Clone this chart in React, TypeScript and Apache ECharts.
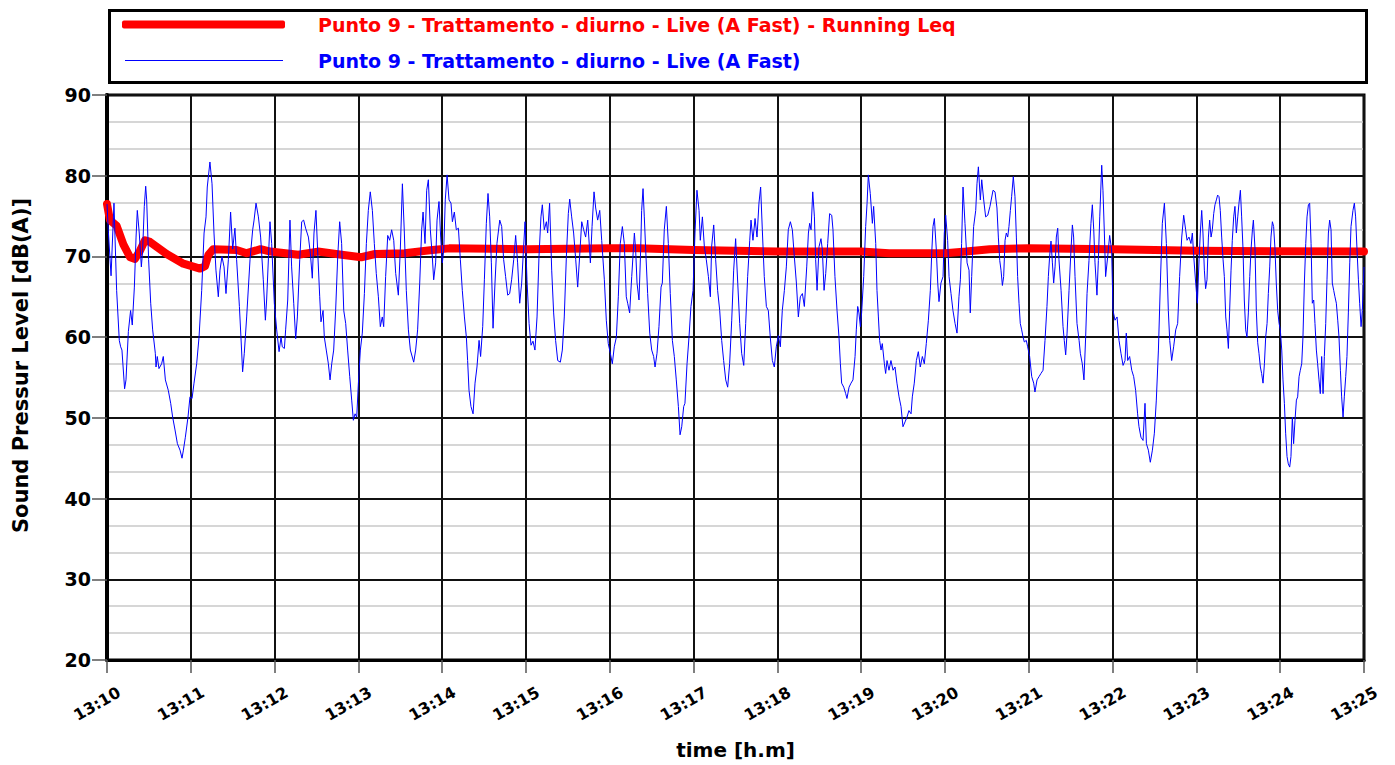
import React, { useEffect, useRef } from "react";
import * as echarts from "echarts";

const FONT = '"Comic Sans MS", "DejaVu Sans", sans-serif';
const RED_NAME = "Punto 9 - Trattamento - diurno - Live (A Fast) - Running Leq";
const BLUE_NAME = "Punto 9 - Trattamento - diurno - Live (A Fast)";

// time axis: seconds after 13:10
const timeTicks = [0, 60, 120, 180, 240, 300, 360, 420, 480, 540, 600, 660, 720, 780, 840, 900];
const startMinute = 10;
const startHour = 13;

// Running Leq [seconds, dB(A)]
const runningLeq: [number, number][] = [
  [0, 76.5], [2.1, 74.5], [6.9, 73.8], [11.7, 71.5], [16.5, 69.9], [20, 69.7], [23.6, 70.7], [27.2, 72.0],
  [30.8, 71.8], [42.7, 70.3], [54.7, 69.1], [66.6, 68.5], [70.2, 68.8], [72.6, 70.2], [76.1, 70.9],
  [92.8, 70.8], [100, 70.4], [110, 70.9], [117, 70.6], [137, 70.2], [151, 70.6], [168, 70.2], [182, 69.9],
  [192, 70.3], [213, 70.4], [233, 70.8], [245, 71.0], [300, 70.9], [360, 71.0], [380, 71.0], [420, 70.8],
  [480, 70.6], [540, 70.6], [560, 70.4], [600, 70.4], [615, 70.6], [632, 70.9], [660, 71.0], [720, 70.9],
  [780, 70.7], [900, 70.6],
];

// Live (A Fast) [seconds, dB(A)]
const liveMin0: [number, number][] = [
  [0, 76.5], [1, 73], [2.9, 67.6], [5, 76.6], [6.9, 65.8], [8.8, 59.6], [9.8, 58.8], [10.7, 58.4], [12.6, 53.6],
  [13.6, 54.7], [15.3, 60.7], [16.9, 63.3], [18.1, 61.5], [19.6, 66.2], [20.8, 72.4], [21.7, 75.7], [23.1, 72.9],
  [24.6, 68.7], [25.5, 70.7], [26.7, 76.2], [27.7, 78.7], [28.4, 77.0], [29.8, 69.6], [31.3, 64.2], [32.7, 60.9],
  [34.6, 58.0], [35.1, 56.3], [36.0, 57.6], [37.2, 56.1], [39.1, 56.7], [40.3, 57.6], [41.8, 54.7], [43.9, 53.4],
  [45.6, 51.8], [47.0, 50.1], [48.7, 48.5], [50.4, 46.8], [52.3, 46.0], [53.7, 45.0], [54.7, 46.0], [56.1, 47.6],
  [58.0, 50.1], [59.4, 52.6],
];
const liveMin1: [number, number][] = [
  [60.9, 52.4], [62.3, 54.3], [64.2, 56.7], [65.9, 60.0], [67.8, 65.8], [69.5, 72.9], [70.9, 74.9], [71.8, 78.6],
  [73.7, 81.7], [75.2, 79.0], [76.6, 72.9], [78.0, 68.3], [79.7, 65.0], [80.9, 68.3], [82.3, 70.0], [83.8, 68.7],
  [85.2, 65.4], [86.9, 69.6], [88.5, 75.5], [90.0, 70.9], [91.6, 73.5], [92.8, 69.6], [94.8, 63.8], [95.9, 60.0],
  [97.1, 55.7], [98.3, 58.0], [100.0, 62.5], [102.4, 69.6], [104.3, 73.3], [105.3, 74.5], [106.7, 76.6],
  [108.4, 74.9], [110.0, 72.4], [111.9, 67.1], [113.4, 62.1], [114.3, 64.6], [116.7, 74.3], [117.9, 71.6],
  [119.8, 64.2],
];
const liveMin2: [number, number][] = [
  [121.5, 60.9], [123.2, 58.2], [124.6, 60.0], [125.5, 58.8], [127.0, 58.6], [127.9, 60.9], [129.4, 64.6],
  [131.0, 74.5], [132.2, 68.7], [133.7, 64.2], [135.1, 59.8], [136.3, 62.5], [138.0, 69.6], [139.4, 74.3],
  [140.8, 74.5], [142.2, 73.5], [144.2, 72.4], [145.6, 70.4], [147.0, 67.3], [148.2, 72.9], [149.6, 75.7],
  [150.8, 70.8], [152.3, 65.0], [153.2, 61.9], [154.7, 63.3], [155.6, 60.0], [157.0, 58.4], [158.5, 56.7],
  [159.7, 54.7], [160.9, 56.7], [162.3, 58.4], [163.7, 63.3], [165.2, 70.0], [166.6, 74.3], [168.0, 71.6],
  [169.5, 63.3], [170.9, 61.7], [172.3, 58.4], [173.8, 55.1], [175.2, 52.2], [176.4, 49.7], [177.6, 50.5],
  [178.8, 50.1],
];
const liveMin3: [number, number][] = [
  [180.0, 54.3], [181.4, 58.4], [182.8, 60.5], [184.3, 65.4], [185.7, 71.6], [187.1, 75.7], [188.5, 78.0],
  [190.0, 75.7], [191.4, 71.6], [192.8, 67.9], [194.3, 65.0], [195.7, 61.3], [197.1, 62.5], [198.1, 61.3],
  [199.5, 67.5], [201.0, 72.6], [202.4, 72.0], [203.8, 73.3], [205.3, 72.0], [206.7, 67.9], [208.6, 65.2],
  [210.0, 70.8], [211.5, 79.0], [212.9, 72.9], [214.3, 65.8], [215.8, 60.9], [217.2, 58.4], [219.6, 56.9],
  [221.0, 58.4], [222.4, 60.9], [223.9, 66.7], [225.3, 73.3], [226.3, 75.5], [227.7, 71.6], [228.9, 78.2],
  [230.1, 79.5], [231.5, 73.3], [232.9, 70.0], [233.9, 67.1], [235.3, 69.2], [236.3, 74.5], [237.7, 76.8],
  [238.9, 72.4],
];
const liveMin4: [number, number][] = [
  [240.1, 69.2], [241.1, 70.8], [242.2, 77.0], [243.5, 80.1], [244.9, 77.0], [246.3, 76.6], [247.3, 74.3],
  [248.7, 75.5], [250.1, 73.3], [251.6, 73.5], [253.0, 69.6], [254.4, 65.8], [255.9, 62.5], [257.3, 60.0],
  [258.2, 57.1], [259.2, 53.4], [260.6, 51.4], [262.1, 50.5], [263.5, 54.3], [264.9, 56.3], [266.4, 59.6],
  [267.5, 57.6], [269.0, 61.3], [270.2, 67.1], [271.6, 74.1], [272.8, 77.8], [274.0, 74.9], [275.2, 69.2],
  [276.4, 61.1], [277.8, 66.7], [279.2, 71.6], [281.2, 74.5], [282.6, 73.7], [284.0, 69.6], [285.4, 67.5],
  [286.9, 65.2], [288.3, 65.4], [289.7, 67.1], [291.2, 69.6], [292.6, 72.6], [294.0, 69.2], [295.5, 64.2],
  [296.9, 66.7], [298.3, 71.2], [299.3, 74.3],
];
const liveMin5: [number, number][] = [
  [300.7, 67.1], [302.2, 61.7], [303.6, 59.0], [305.0, 59.5], [306.4, 58.4], [307.9, 62.5], [309.3, 70.0],
  [310.7, 74.9], [311.7, 76.4], [313.1, 73.3], [314.6, 74.3], [315.5, 72.9], [316.9, 76.6], [318.4, 68.3],
  [319.8, 63.0], [321.2, 59.6], [322.7, 57.1], [324.6, 56.9], [326.0, 58.4], [327.4, 62.5], [328.9, 70.0],
  [330.3, 75.3], [331.3, 77.1], [332.7, 74.9], [334.1, 72.9], [335.6, 69.6], [337.0, 66.2], [338.4, 70.0],
  [339.9, 74.3], [341.3, 73.3], [342.7, 72.4], [344.2, 74.5], [346.1, 69.2], [347.3, 73.7], [348.7, 78.0],
  [349.9, 76.0], [351.3, 74.5], [352.8, 75.7], [354.2, 72.0], [356.1, 67.1], [357.5, 62.1], [358.9, 59.2],
];
const liveMin6: [number, number][] = [
  [360.4, 58.0], [361.8, 56.7], [363.2, 58.8], [364.7, 60.0], [366.1, 65.0], [367.5, 71.6], [369.0, 73.7],
  [370.4, 71.6], [371.8, 65.0], [372.8, 64.2], [374.2, 63.0], [375.7, 67.5], [377.6, 72.9], [378.5, 70.8],
  [379.5, 66.7], [380.9, 64.6], [382.1, 70.8], [382.8, 75.7], [383.8, 78.4], [384.7, 74.9], [385.7, 70.8],
  [387.1, 65.4], [388.6, 60.5], [390.0, 58.4], [391.4, 57.6], [392.4, 56.3], [393.8, 58.0], [395.2, 61.3],
  [396.7, 66.2], [397.6, 66.7], [399.0, 73.3], [400.5, 76.2], [401.9, 71.6], [403.3, 65.4], [404.8, 59.6],
  [406.2, 57.6], [407.6, 54.7], [409.1, 51.4], [410.3, 47.9], [411.5, 48.9], [412.9, 51.4], [413.8, 51.8],
  [415.3, 56.7], [416.7, 60.0], [418.1, 63.8], [419.6, 65.8],
];
const liveMin7: [number, number][] = [
  [421.0, 72.9], [422.4, 78.2], [423.9, 75.7], [424.8, 72.0], [426.3, 74.9], [427.7, 71.2], [429.1, 69.6],
  [430.6, 67.5], [432.0, 65.0], [432.9, 71.2], [434.4, 73.9], [435.8, 69.6], [437.2, 65.8], [438.7, 63.3],
  [440.1, 59.6], [441.5, 57.1], [443.0, 54.7], [444.4, 53.8], [445.8, 56.7], [447.3, 62.1], [448.7, 68.3],
  [450.1, 72.2], [451.6, 66.7], [453.0, 61.7], [454.4, 58.0], [455.9, 56.5], [457.3, 61.7], [458.7, 67.5],
  [460.2, 72.0], [461.1, 74.5], [462.5, 72.0], [464.0, 74.7], [465.4, 72.4], [466.8, 76.6], [468.0, 78.6],
  [469.2, 73.3], [470.6, 67.5], [472.1, 63.8], [473.5, 63.3], [474.9, 60.0], [476.4, 57.1], [477.8, 56.3],
  [479.2, 58.8],
];
const liveMin8: [number, number][] = [
  [480.7, 60.2], [482.1, 58.8], [483.5, 63.3], [485.0, 65.8], [486.4, 68.7], [487.8, 73.3], [489.3, 74.3],
  [490.7, 73.3], [492.1, 70.0], [493.6, 66.7], [495.0, 62.5], [496.4, 65.0], [497.9, 65.4], [499.3, 63.8],
  [501.0, 68.7], [502.2, 72.9], [503.1, 74.1], [504.1, 73.3], [505.3, 78.0], [506.5, 74.9], [507.4, 69.6],
  [508.4, 65.8], [509.8, 71.2], [511.2, 72.2], [512.2, 70.8], [513.4, 65.8], [514.6, 67.9], [516.0, 71.6],
  [517.4, 75.3], [518.9, 75.1], [519.8, 73.3], [521.2, 67.5], [522.7, 63.3], [524.1, 60.0], [525.1, 56.7],
  [526.0, 54.3], [527.5, 53.8], [528.9, 53.0], [529.8, 52.4], [531.3, 53.8], [532.7, 54.3], [534.1, 54.7],
  [535.6, 57.6], [536.5, 60.9], [537.5, 63.8], [538.4, 63.0], [539.4, 61.3],
];
const liveMin9: [number, number][] = [
  [540.3, 63.0], [541.8, 67.5], [543.2, 73.7], [544.2, 76.6], [545.1, 80.1], [546.5, 77.8], [548.0, 74.1],
  [548.9, 76.2], [550.4, 71.6], [551.3, 65.8], [552.3, 62.5], [553.2, 59.6], [554.2, 58.4], [555.1, 59.2],
  [556.6, 56.7], [557.5, 55.5], [558.5, 57.1], [559.9, 55.9], [561.3, 57.1], [562.8, 55.9], [564.2, 56.3],
  [565.6, 54.3], [567.1, 52.6], [568.5, 51.4], [569.9, 48.9], [571.4, 49.5], [572.8, 50.1], [574.2, 50.9],
  [575.7, 50.5], [576.6, 52.6], [578.0, 54.3], [579.5, 57.1], [580.9, 58.2], [582.3, 56.3], [583.8, 57.6],
  [585.2, 56.7], [586.6, 59.2], [588.1, 62.1], [589.5, 65.8], [590.5, 70.4], [591.4, 73.7], [592.4, 74.7],
  [593.8, 70.8], [594.8, 66.7], [595.7, 64.4], [597.1, 66.7], [598.6, 67.5], [599.5, 72.9],
];
const liveMin10: [number, number][] = [
  [600.5, 75.1], [601.9, 72.0], [602.9, 67.5], [604.3, 65.4], [605.7, 63.3], [607.2, 61.7], [608.6, 60.5],
  [610.0, 65.0], [611.0, 67.1], [611.9, 71.6], [612.9, 78.6], [614.3, 74.1], [615.8, 69.2], [617.2, 68.3],
  [618.1, 63.0], [619.1, 67.5], [620.5, 73.7], [622.0, 75.7], [622.9, 79.0], [623.9, 81.1], [625.3, 77.0],
  [626.3, 79.5], [627.7, 77.0], [629.1, 74.9], [630.6, 75.1], [632.2, 76.2], [634.4, 78.2], [635.8, 78.0],
  [637.2, 76.0], [638.2, 72.4], [639.2, 69.5], [640.1, 68.3], [641.1, 66.4], [642.0, 67.5], [643.0, 72.0],
  [643.9, 72.9], [644.9, 72.4], [645.8, 73.7], [646.8, 75.7], [647.7, 77.4], [648.9, 79.9], [650.1, 77.4],
  [651.1, 72.4], [652.0, 67.5], [653.0, 64.2], [653.9, 61.7], [654.9, 60.9], [655.9, 60.0], [656.8, 59.4],
  [658.2, 59.6], [659.2, 58.8],
];
const liveMin11: [number, number][] = [
  [660.6, 57.6], [662.1, 55.1], [663.5, 54.3], [664.4, 53.2], [665.9, 54.7], [667.3, 55.1], [668.7, 55.5],
  [670.2, 55.9], [671.6, 59.6], [673.0, 63.8], [674.0, 67.5], [674.9, 70.0], [675.9, 71.9], [676.9, 69.2],
  [677.8, 66.7], [678.8, 68.7], [679.7, 72.4], [680.7, 73.5], [681.6, 69.6], [683.1, 65.8], [684.5, 61.3],
  [685.4, 59.6], [686.4, 57.8], [687.4, 60.5], [688.8, 65.8], [690.2, 70.8], [691.2, 73.9], [692.1, 72.4],
  [693.1, 67.5], [694.5, 61.7], [696.0, 59.6], [696.9, 58.0], [698.3, 56.7], [699.5, 54.7], [700.7, 60.0],
  [701.7, 65.4], [703.1, 69.5], [704.5, 74.1], [705.5, 76.4], [706.5, 73.3], [707.4, 69.2], [708.8, 65.2],
  [709.8, 69.5], [710.8, 74.9], [712.2, 81.3], [713.1, 78.2], [714.1, 72.9], [715.0, 67.5], [716.5, 70.0],
  [717.9, 72.6], [719.3, 70.8],
];
const liveMin12: [number, number][] = [
  [720.3, 63.3], [721.7, 62.1], [723.2, 62.5], [724.6, 59.6], [726.0, 58.0], [727.5, 56.5], [728.9, 57.1],
  [729.8, 60.5], [730.8, 57.1], [732.2, 57.6], [733.7, 55.9], [735.1, 55.1], [736.5, 53.4], [737.9, 50.5],
  [738.9, 48.9], [740.3, 47.6], [741.8, 47.2], [743.2, 51.8], [744.2, 46.8], [745.6, 46.0], [747.0, 44.5],
  [748.5, 46.0], [749.9, 48.1], [751.3, 52.2], [752.8, 58.4], [754.2, 66.7], [755.6, 74.1], [757.1, 76.6],
  [758.5, 71.6], [759.9, 63.3], [760.9, 59.6], [762.3, 57.1], [763.7, 58.8], [765.2, 60.9], [766.6, 61.7],
  [768.0, 67.5], [769.5, 72.4], [770.9, 75.1], [772.3, 73.3], [773.3, 72.0], [774.7, 72.4], [776.1, 71.6],
  [777.1, 72.9], [778.1, 70.0], [779.5, 66.7],
];
const liveMin13: [number, number][] = [
  [780.7, 64.2], [781.9, 69.6], [782.8, 72.9], [783.8, 75.7], [784.7, 72.9], [785.7, 68.3], [786.6, 66.0],
  [787.6, 67.1], [788.6, 72.4], [789.5, 74.5], [790.5, 72.4], [791.4, 73.3], [792.4, 75.3], [793.3, 76.4],
  [794.3, 77.0], [795.2, 77.6], [796.2, 77.4], [797.1, 75.7], [798.1, 72.4], [799.1, 69.6], [800.0, 67.5],
  [801.0, 62.5], [801.9, 60.9], [802.9, 58.6], [803.8, 63.3], [804.8, 68.3], [805.7, 72.0], [806.7, 74.9],
  [807.6, 76.2], [808.6, 72.9], [809.6, 74.9], [810.5, 76.6], [811.5, 78.2], [812.4, 74.9], [813.4, 70.8],
  [814.3, 64.6], [815.3, 60.9], [816.2, 60.0], [817.2, 63.0], [818.2, 67.5], [819.1, 70.8], [820.1, 73.3],
  [820.8, 74.5], [822.0, 70.8], [822.9, 63.3], [823.9, 59.3], [824.8, 58.0], [825.8, 56.3], [826.7, 55.5],
  [827.7, 54.3], [828.7, 56.7], [829.6, 60.0], [830.6, 61.7], [831.5, 65.4], [832.5, 68.7], [833.4, 72.4],
  [834.4, 74.3], [835.3, 73.7], [836.3, 70.8], [837.2, 66.7], [838.2, 63.3], [839.2, 61.7],
];
const liveMin14: [number, number][] = [
  [840.1, 60.9], [841.1, 58.4], [842.0, 54.7], [843.0, 51.8], [843.9, 48.1], [844.9, 45.2], [845.8, 44.3],
  [846.8, 43.9], [847.7, 45.2], [848.7, 50.1], [849.6, 46.8], [850.6, 49.7], [851.6, 52.2], [852.5, 52.6],
  [853.5, 55.1], [854.4, 55.9], [855.4, 56.7], [856.3, 60.0], [857.3, 66.7], [858.3, 71.6], [859.2, 74.9],
  [860.2, 76.4], [861.1, 76.6], [862.1, 71.6], [863.0, 64.2], [864.0, 64.6], [864.9, 61.7], [865.9, 58.4],
  [866.8, 56.7], [867.8, 54.7], [868.7, 53.0], [869.7, 57.6], [870.7, 53.0], [871.6, 57.6], [872.6, 61.7],
  [873.5, 67.1], [874.5, 72.9], [875.4, 74.5], [876.4, 73.3], [877.3, 66.7], [878.3, 65.8], [879.2, 65.0],
  [880.2, 64.2], [881.2, 62.1], [882.1, 60.0], [883.1, 55.9], [884.0, 52.6], [885.0, 50.1], [885.9, 52.6],
  [886.9, 55.1], [887.8, 57.6], [888.8, 63.0], [889.8, 69.2], [890.7, 73.7], [892.1, 75.7], [893.1, 76.6],
  [894.0, 74.9], [895.0, 70.8], [896.0, 67.1], [896.9, 64.2], [897.9, 61.3], [898.8, 63.3], [900.0, 68.7],
];

const liveData: [number, number][] = [
  ...liveMin0, ...liveMin1, ...liveMin2, ...liveMin3, ...liveMin4, ...liveMin5, ...liveMin6, ...liveMin7,
  ...liveMin8, ...liveMin9, ...liveMin10, ...liveMin11, ...liveMin12, ...liveMin13, ...liveMin14,
];

function fmtTime(v: number): string {
  const m = startMinute + Math.round(v / 60);
  return `${startHour}:${m < 10 ? "0" + m : m}`;
}

export default function App() {
  const ref = useRef<HTMLDivElement>(null);
  useEffect(() => {
    if (!ref.current) return;
    const chart = echarts.init(ref.current, null, { renderer: "svg" });
    chart.setOption({
      animation: false,
      backgroundColor: "#ffffff",
      textStyle: { fontFamily: FONT },
      graphic: [
        {
          type: "rect",
          left: 107,
          top: 8,
          shape: { width: 1257, height: 72 },
          style: { fill: "none", stroke: "#000", lineWidth: 3 },
          z: 0,
        },
      ],
      legend: [
        {
          data: [RED_NAME],
          left: 122,
          top: 15,
          padding: 0,
          selectedMode: false,
          icon: "roundRect",
          itemWidth: 163,
          itemHeight: 8,
          textStyle: {
            color: "#ff0000",
            fontSize: 19,
            fontWeight: "bold",
            fontFamily: FONT,
            padding: [0, 0, 0, 28],
          },
        },
        {
          data: [BLUE_NAME],
          left: 125,
          top: 51,
          padding: 0,
          selectedMode: false,
          icon: "rect",
          itemWidth: 158,
          itemHeight: 1,
          textStyle: {
            color: "#0000ff",
            fontSize: 19,
            fontWeight: "bold",
            fontFamily: FONT,
            padding: [0, 0, 0, 30],
          },
        },
      ],
      grid: {
        left: 107,
        right: 31,
        top: 95,
        bottom: 105,
        show: true,
        borderColor: "#000",
        borderWidth: 3,
        backgroundColor: "transparent",
        containLabel: false,
        outerBoundsMode: "none",
      },
      xAxis: {
        type: "value",
        min: timeTicks[0],
        max: timeTicks[timeTicks.length - 1],
        interval: 60,
        name: "time [h.m]",
        nameLocation: "middle",
        nameGap: 80,
        nameTextStyle: { fontSize: 20, fontWeight: "bold", color: "#000", fontFamily: FONT },
        axisLine: { show: true, onZero: false, lineStyle: { color: "#000", width: 3 } },
        axisTick: { show: true, length: 13, lineStyle: { color: "#555", width: 1.5 } },
        axisLabel: {
          formatter: fmtTime,
          rotate: 30,
          align: "center",
          verticalAlign: "middle",
          margin: 38,
          padding: [0, 23, 0, 0],
          fontSize: 16,
          fontWeight: "bold",
          color: "#000",
          fontFamily: FONT,
        },
        splitLine: { show: true, lineStyle: { color: "#111", width: 2 } },
      },
      yAxis: {
        type: "value",
        min: 20,
        max: 90,
        interval: 10,
        name: "Sound Pressur Level [dB(A)]",
        nameLocation: "middle",
        nameRotate: 90,
        nameGap: 76,
        nameTextStyle: {
          fontSize: 21,
          fontWeight: "bold",
          color: "#000",
          fontFamily: FONT,
          padding: [0, 0, 0, 24],
        },
        axisLine: { show: true, lineStyle: { color: "#000", width: 4 } },
        axisTick: { show: true, length: 15, lineStyle: { color: "#555", width: 1.5 } },
        axisLabel: { fontSize: 19, fontWeight: "bold", color: "#000", margin: 16, fontFamily: FONT },
        splitLine: { show: true, lineStyle: { color: "#111", width: 2 } },
        minorTick: { show: false, splitNumber: 3 },
        minorSplitLine: { show: true, lineStyle: { color: "#c8c8c8", width: 1.5 } },
      },
      series: [
        {
          name: RED_NAME,
          type: "line",
          data: runningLeq,
          showSymbol: false,
          symbol: "none",
          lineStyle: { color: "#ff0000", width: 8, cap: "round", join: "round" },
          itemStyle: { color: "#ff0000" },
          z: 2,
        },
        {
          name: BLUE_NAME,
          type: "line",
          data: liveData,
          showSymbol: false,
          symbol: "none",
          lineStyle: { color: "#0000ff", width: 1 },
          itemStyle: { color: "#0000ff" },
          z: 3,
        },
      ],
    });
    return () => chart.dispose();
  }, []);
  return (
    <div
      ref={ref}
      style={{ position: "absolute", left: 0, top: 0, width: 1395, height: 765, background: "#fff" }}
    />
  );
}
